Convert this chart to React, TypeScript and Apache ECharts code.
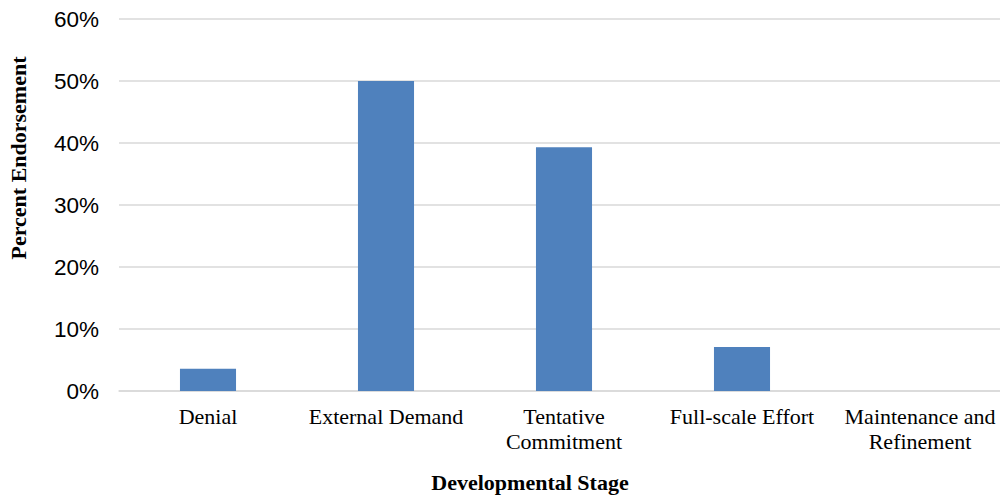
import React, { useEffect, useRef } from "react";
import * as echarts from "echarts";

const categories = ["Denial", "External Demand", "Tentative\nCommitment", "Full-scale Effort", "Maintenance and\nRefinement"];
const values = [3.6, 50, 39.3, 7.1, 0];
const yTicks = { min: 0, max: 60, interval: 10 };
const xTitle = "Developmental Stage";
const yTitle = "Percent Endorsement";

export default function App() {
  const ref = useRef<HTMLDivElement>(null);
  useEffect(() => {
    document.body.style.margin = "0";
    document.body.style.overflow = "hidden";
    const chart = echarts.init(ref.current!, null, { renderer: "svg" });
    chart.setOption({
      animation: false,
      backgroundColor: "#ffffff",
      grid: { left: 119, right: 0, top: 19, bottom: 105, containLabel: false },
      xAxis: {
        type: "category",
        data: categories,
        axisLine: { show: true, lineStyle: { color: "#d9d9d9", width: 1.5 } },
        axisTick: { show: false },
        axisLabel: {
          interval: 0,
          margin: 13,
          fontFamily: "Liberation Serif",
          fontSize: 22,
          lineHeight: 25,
          color: "#000000",
        },
      },
      yAxis: {
        type: "value",
        min: yTicks.min,
        max: yTicks.max,
        interval: yTicks.interval,
        axisLine: { show: false },
        axisTick: { show: false },
        splitLine: { lineStyle: { color: "#d9d9d9", width: 1.5 } },
        axisLabel: {
          margin: 20,
          formatter: "{value}%",
          fontFamily: "Liberation Sans",
          fontSize: 22.5,
          color: "#000000",
        },
      },
      series: [
        {
          type: "bar",
          data: values,
          barWidth: "31.5%",
          itemStyle: { color: "#4f81bd" },
        },
      ],
      graphic: [
        {
          type: "text",
          x: 530,
          y: 482,
          style: {
            text: xTitle,
            fontFamily: "Liberation Serif",
            fontWeight: "bold",
            fontSize: 22,
            fill: "#000000",
            textAlign: "center",
            textVerticalAlign: "middle",
          },
        },
        {
          type: "text",
          x: 18,
          y: 158,
          rotation: Math.PI / 2,
          style: {
            text: yTitle,
            fontFamily: "Liberation Serif",
            fontWeight: "bold",
            fontSize: 22,
            fill: "#000000",
            textAlign: "center",
            textVerticalAlign: "middle",
          },
        },
      ],
    });
    return () => chart.dispose();
  }, []);
  return <div ref={ref} style={{ width: 1009, height: 496 }} />;
}
